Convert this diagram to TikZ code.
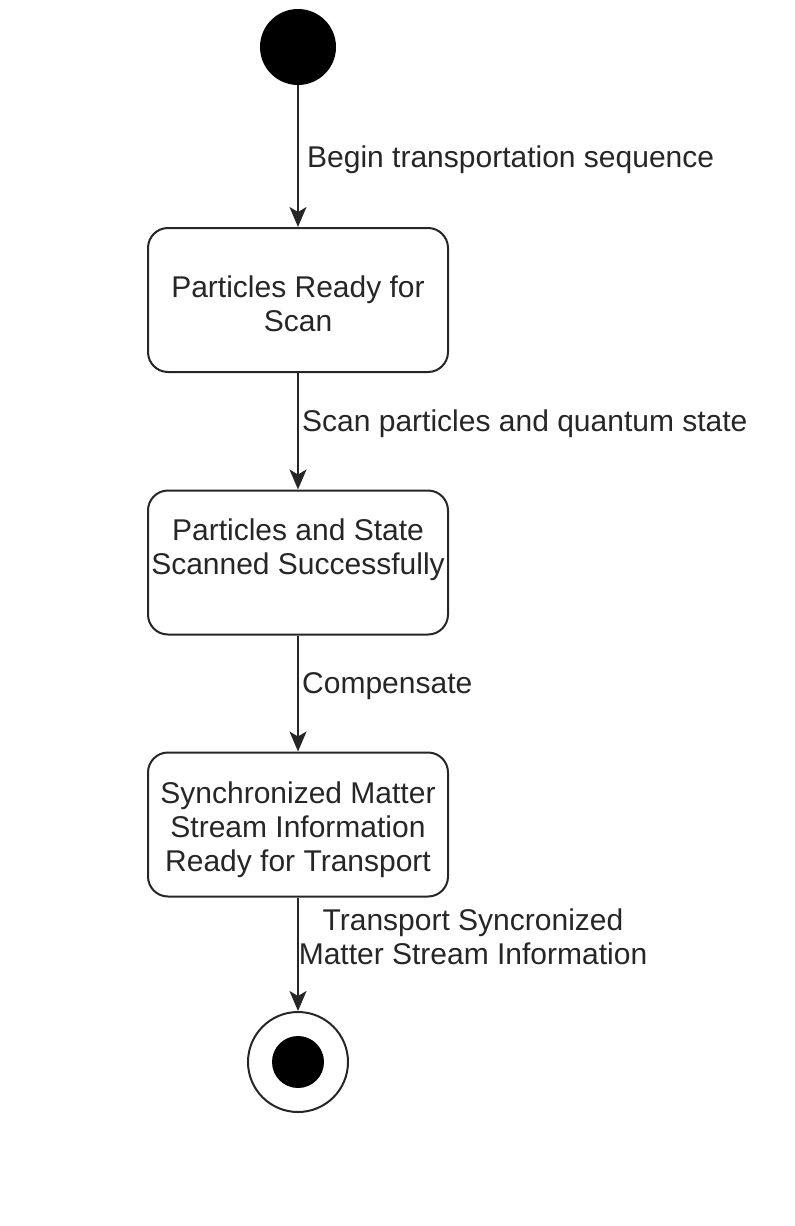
\documentclass[tikz,border=0pt]{standalone}
\usepackage{fontspec}
\setmainfont{Liberation Sans}
\usetikzlibrary{arrows.meta}
\begin{document}
\begin{tikzpicture}[x=1pt,y=-1pt,
  txt/.style={font=\fontsize{30}{34}\selectfont, text=black!85, inner sep=0pt, align=center},
  statebox/.style={draw=black!85, line width=2pt, rounded corners=20pt, minimum width=300pt, minimum height=144pt, inner sep=0pt},
  arr/.style={draw=black!85, line width=2pt, -{Stealth[length=20pt,width=17pt,inset=5pt]}}]
\useasboundingbox (0,0) rectangle (795,1226);
\node[circle, fill=black, minimum size=76pt, inner sep=0pt] (start) at (298,47) {};
\node[statebox] (b1) at (298,300) {};
\node[statebox] (b2) at (298,562.5) {};
\node[statebox] (b3) at (298,824.5) {};
\node[circle, draw=black!85, line width=2pt, minimum size=100pt, inner sep=0pt] (end) at (298,1062) {};
\node[circle, fill=black, minimum size=52pt, inner sep=0pt] (endin) at (end.center) {};
\node[txt] (t1) at (298,304) {Particles Ready for\\Scan};
\node[txt] (t2) at (298,550) {Particles and State\\Scanned Successfully};
\node[txt] (t3) at (298,830) {Synchronized Matter\\Stream Information\\Ready for Transport};
\draw[arr] (start) -- (b1);
\draw[arr] (b1) -- (b2);
\draw[arr] (b2) -- (b3);
\draw[arr] (b3) -- (end);
\node[txt, anchor=west] (l1) at (307,160) {Begin transportation sequence};
\node[txt, anchor=west] (l2) at (302,424) {Scan particles and quantum state};
\node[txt, anchor=west] (l3) at (302,686) {Compensate};
\node[txt] (l4) at (473,937) {Transport Syncronized\\Matter Stream Information};
\end{tikzpicture}
\end{document}
